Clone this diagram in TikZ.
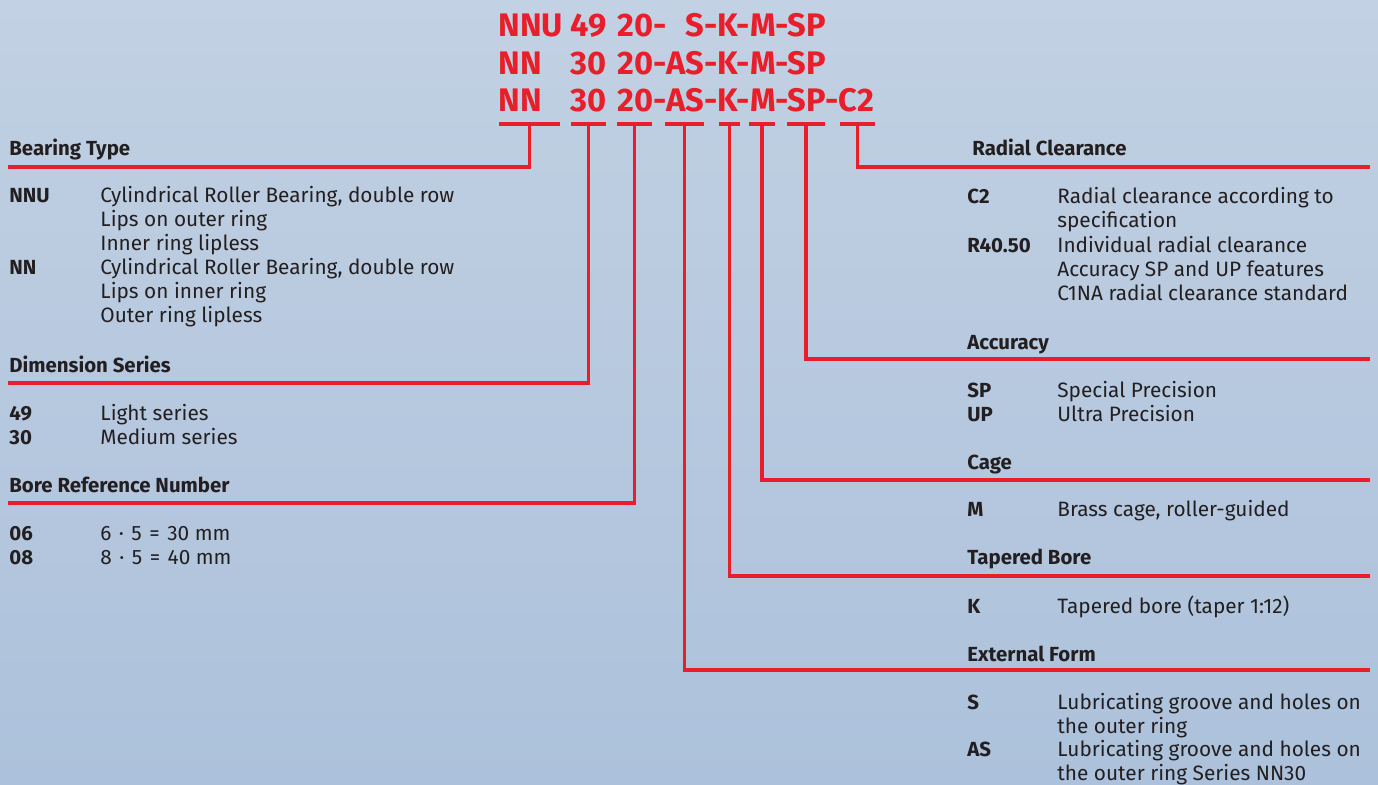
\documentclass[tikz,border=0pt]{standalone}
\usepackage{fontspec}
\setmainfont{Fira Sans}
\usepackage{tikz}

\definecolor{codered}{RGB}{232,30,42}
\definecolor{textgray}{RGB}{35,31,32}
\definecolor{bgtop}{RGB}{194,209,227}
\definecolor{bgbottom}{RGB}{172,193,219}

% lines stacked from the baseline of the first one
\newcommand{\desclines}[1]{\begin{tabular}[t]{@{}l@{}}#1\end{tabular}}

\begin{document}
\begin{tikzpicture}[
    x=0.5pt, y=-0.5pt, % one unit is one pixel of the reference
    code/.style={anchor=base west, inner sep=0, text=codered, font=\fontsize{16.3}{19}\selectfont\bfseries},
    heading/.style={anchor=base west, inner sep=0, text=textgray, font=\fontsize{10.2}{12}\selectfont\bfseries},
    key/.style={anchor=base west, inner sep=0, text=textgray, font=\fontsize{10.2}{12}\selectfont\bfseries},
    desc/.style={anchor=base west, inner sep=0, text=textgray, font=\fontsize{10.4}{12}\selectfont},
    bar/.style={fill=codered, inner sep=0, minimum height=2pt},
    redline/.style={draw=codered, line width=1.7pt, line join=miter}
]

% Background
\useasboundingbox (0,0) rectangle (1378,785);
\shade[top color=bgtop, bottom color=bgbottom] (0,0) rectangle (1378,785);

% Designation rows
\node[code] (n1) at (498,37) {NNU};
\node[code] (s1) at (570,37) {49};
\node[code] (b1) at (617,37) {20-};
\node[code] (r1) at (685,37) {S-K-M-SP};
\node[code] (n2) at (498,75) {NN};
\node[code] (s2) at (570,75) {30};
\node[code] (b2) at (617,75) {20-AS-K-M-SP};
\node[code] (n3) at (498,112) {NN};
\node[code] (s3) at (570,112) {30};
\node[code] (b3) at (617,112) {20-AS-K-M-SP-C2};

% Underline bars
\node[bar, minimum width=30.5pt] (barType) at (529.5,124) {};
\node[bar, minimum width=17.5pt] (barSeries) at (588.5,124) {};
\node[bar, minimum width=17.5pt] (barBore) at (634.5,124) {};
\node[bar, minimum width=19.5pt] (barForm) at (684.5,124) {};
\node[bar, minimum width=10.5pt] (barTaper) at (729.5,124) {};
\node[bar, minimum width=13pt] (barCage) at (762,124) {};
\node[bar, minimum width=19pt] (barAcc) at (806,124) {};
\node[bar, minimum width=17.5pt] (barClear) at (857.5,124) {};

% Line ends
\coordinate (endType) at (8,167);
\coordinate (endSeries) at (8,383);
\coordinate (endBore) at (8,503);
\coordinate (endClear) at (1370,167);
\coordinate (endAcc) at (1370,359);
\coordinate (endCage) at (1370,480);
\coordinate (endTaper) at (1370,576);
\coordinate (endForm) at (1370,670);

% Connectors
\draw[redline] (barType.center) |- (endType);
\draw[redline] (barSeries.center) |- (endSeries);
\draw[redline] (barBore.center) |- (endBore);
\draw[redline] (barForm.center) |- (endForm);
\draw[redline] (barTaper.center) |- (endTaper);
\draw[redline] (barCage.center) |- (endCage);
\draw[redline] (barAcc.center) |- (endAcc);
\draw[redline] (barClear.center) |- (endClear);

% Left column
\node[heading] (hType) at (9,156) {Bearing Type};
\node[key] (kNNU) at (9,203) {NNU};
\node[desc] (dNNU) at (100,203) {\desclines{Cylindrical Roller Bearing, double row\\Lips on outer ring\\Inner ring lipless}};
\node[key] (kNN) at (9,275) {NN};
\node[desc] (dNN) at (100,275) {\desclines{Cylindrical Roller Bearing, double row\\Lips on inner ring\\Outer ring lipless}};

\node[heading] (hSeries) at (9,373) {Dimension Series};
\node[key] (k49) at (9,421) {49};
\node[desc] (d49) at (100,421) {Light series};
\node[key] (k30) at (9,445) {30};
\node[desc] (d30) at (100,445) {Medium series};

\node[heading] (hBore) at (9,493) {Bore Reference Number};
\node[key] (k06) at (9,541) {06};
\node[desc] (d06) at (100,541) {6\hspace{1pt} ·\hspace{1pt} 5\hspace{1pt} =\hspace{1pt} 30 mm};
\node[key] (k08) at (9,565) {08};
\node[desc] (d08) at (100,565) {8\hspace{1pt} ·\hspace{1pt} 5\hspace{1pt} =\hspace{1pt} 40 mm};

% Right column
\node[heading] (hClear) at (972,156) {Radial Clearance};
\node[key] (kC2) at (967,204) {C2};
\node[desc] (dC2) at (1057,204) {\desclines{Radial clearance according to\\specification}};
\node[key] (kR) at (967,253) {R40.50};
\node[desc] (dR) at (1057,253) {\desclines{Individual radial clearance\\Accuracy SP and UP features\\C1NA radial clearance standard}};

\node[heading] (hAcc) at (967,350) {Accuracy};
\node[key] (kSP) at (967,398) {SP};
\node[desc] (dSP) at (1057,398) {Special Precision};
\node[key] (kUP) at (967,422) {UP};
\node[desc] (dUP) at (1057,422) {Ultra Precision};

\node[heading] (hCage) at (967,470) {Cage};
\node[key] (kM) at (967,517) {M};
\node[desc] (dM) at (1057,517) {Brass cage, roller-guided};

\node[heading] (hTaper) at (967,565) {Tapered Bore};
\node[key] (kK) at (967,614) {K};
\node[desc] (dK) at (1057,614) {Tapered bore (taper 1:12)};

\node[heading] (hForm) at (967,662) {External Form};
\node[key] (kS) at (967,710) {S};
\node[desc] (dS) at (1057,710) {\desclines{Lubricating groove and holes on\\the outer ring}};
\node[key] (kAS) at (967,757) {AS};
\node[desc] (dAS) at (1057,757) {\desclines{Lubricating groove and holes on\\the outer ring Series NN30}};

\end{tikzpicture}
\end{document}
